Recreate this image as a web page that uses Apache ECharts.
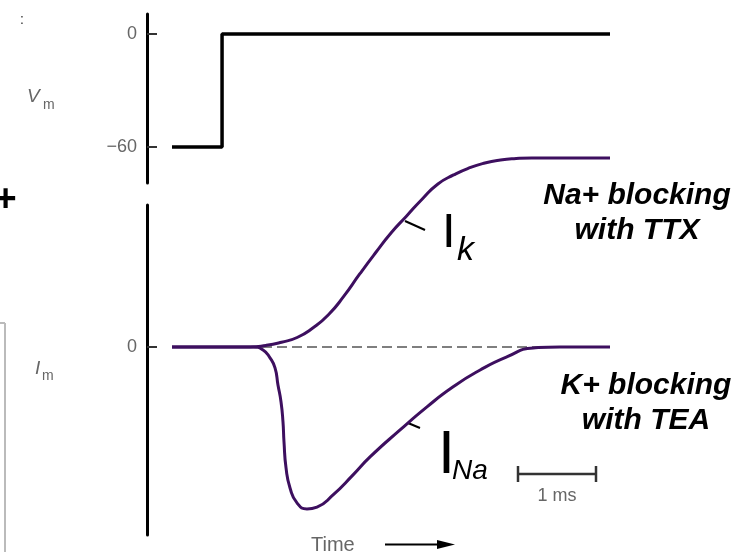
<!DOCTYPE html>
<html>
<head>
<meta charset="utf-8">
<script src="https://cdn.jsdelivr.net/npm/echarts@6/dist/echarts.min.js"></script>
<style>
  html, body { margin: 0; padding: 0; background: #fff; }
  #chartContent { width: 753px; height: 552px; }
</style>
</head>
<body>
<div id="chartContent"></div>
<script>
// time axis (ms)
var tMin = 0;
var tMax = 5.6;

// membrane voltage step (mV)
var vmTime = [0, 0.64, 0.64, 5.6];
var vmValues = [-60, -60, 0, 0];
var vmTicks = [0, -60];

// K+ current (TTX present), relative units
var ikTime = [0, 1.0, 1.2, 1.4, 1.6, 1.8, 2.0, 2.2, 2.4, 2.6, 2.8, 3.0, 3.2, 3.4, 3.6, 3.8, 4.0, 4.2, 4.4, 4.6, 5.6];
var ikValues = [0, 0, 0.008, 0.025, 0.05, 0.1, 0.17, 0.27, 0.386, 0.497, 0.603, 0.693, 0.783, 0.862, 0.91, 0.947, 0.973, 0.989, 0.997, 1.0, 1.0];

// Na+ current (TEA present), relative units
var naTime = [0, 1.036, 1.164, 1.253, 1.317, 1.355, 1.394, 1.419, 1.432, 1.458, 1.509, 1.598, 1.726, 1.854, 2.059, 2.315, 2.532, 2.916, 3.26, 3.59, 3.94, 4.28, 4.62, 4.96, 5.6];
var naValues = [0, 0, -0.016, -0.058, -0.111, -0.201, -0.291, -0.397, -0.503, -0.64, -0.746, -0.825, -0.857, -0.847, -0.783, -0.677, -0.582, -0.439, -0.317, -0.212, -0.122, -0.053, -0.005, 0, 0];
var imTicks = [0];

function pairs(xs, ys) {
	var out = [];
	for (var i = 0; i < xs.length; i++) {
		out.push([xs[i], ys[i]]);
	}
	return out;
}

var FONT = '"Liberation Sans", Arial, sans-serif';
var PURPLE = '#3d0f5f';
var GRAY = '#666';

function minusFmt(v) {
	return v < 0 ? '\u2212' + Math.abs(v) : String(v);
}

function txt(x, y, s, size, opts) {
	opts = opts || {};
	return {
		type: 'text', x: x, y: y, silent: true,
		style: {
			text: s,
			fontFamily: FONT,
			fontSize: size,
			fontWeight: opts.weight || 'normal',
			fontStyle: opts.style || 'normal',
			fill: opts.color || '#000',
			align: opts.align || 'left',
			verticalAlign: opts.valign || 'middle',
			lineHeight: opts.lineHeight
		}
	};
}

function seg(x1, y1, x2, y2, w, color) {
	return {
		type: 'line', silent: true,
		shape: { x1: x1, y1: y1, x2: x2, y2: y2 },
		style: { stroke: color || '#000', lineWidth: w }
	};
}

function yAxisFor(gridIndex, min, max, ticks) {
	return {
		type: 'value',
		gridIndex: gridIndex,
		min: min,
		max: max,
		offset: 25,
		splitLine: { show: false },
		axisLine: { show: true, onZero: false, lineStyle: { color: '#000', width: 3 } },
		axisTick: { show: true, inside: true, length: 10, customValues: ticks, lineStyle: { color: '#333', width: 2 } },
		axisLabel: { show: true, margin: 10, customValues: ticks, color: GRAY, fontFamily: FONT, fontSize: 18, formatter: minusFmt }
	};
}

var optionContent = {
	animation: false,
	backgroundColor: '#fff',
	grid: [
		{ left: 172, right: 143, top: 14, height: 169 },
		{ left: 172, right: 143, top: 205, height: 330 }
	],
	xAxis: [
		{ type: 'value', gridIndex: 0, min: tMin, max: tMax, show: false },
		{ type: 'value', gridIndex: 1, min: tMin, max: tMax, show: false }
	],
	yAxis: [
		yAxisFor(0, -79.12, 10.62, vmTicks),
		yAxisFor(1, -0.995, 0.751, imTicks)
	],
	series: [
		{
			name: 'Vm', type: 'line', xAxisIndex: 0, yAxisIndex: 0,
			data: pairs(vmTime, vmValues),
			symbol: 'none',
			lineStyle: { color: '#000', width: 3.5 }
		},
		{
			name: 'zero', type: 'line', xAxisIndex: 1, yAxisIndex: 1, z: 1,
			data: [[tMin, 0], [tMax, 0]],
			symbol: 'none',
			lineStyle: { color: '#555', width: 1.5, type: [10, 5] }
		},
		{
			name: 'Ik', type: 'line', xAxisIndex: 1, yAxisIndex: 1, z: 3,
			data: pairs(ikTime, ikValues),
			symbol: 'none', smooth: 0.55, clip: false,
			lineStyle: { color: PURPLE, width: 3 }
		},
		{
			name: 'INa', type: 'line', xAxisIndex: 1, yAxisIndex: 1, z: 3,
			data: pairs(naTime, naValues),
			symbol: 'none', smooth: 0.55, clip: false,
			lineStyle: { color: PURPLE, width: 3 }
		}
	],
	graphic: [
		// axis names
		txt(27, 97, 'V', 19, { style: 'italic', color: GRAY }),
		txt(43, 105, 'm', 14, { color: GRAY }),
		txt(35, 369, 'I', 19, { style: 'italic', color: GRAY }),
		txt(42, 376, 'm', 14, { color: GRAY }),
		// current labels and leaders
		seg(405, 221, 425, 230, 2),
		txt(442, 233, 'I', 49),
		txt(457, 251, 'k', 34, { style: 'italic' }),
		seg(408, 423, 420, 428, 2),
		txt(438, 456, 'I', 61),
		txt(452, 471, 'Na', 28, { style: 'italic' }),
		// blocker notes
		txt(637, 213, 'Na+ blocking\nwith TTX', 30, { weight: 'bold', style: 'italic', align: 'center', lineHeight: 35 }),
		txt(646, 403, 'K+ blocking\nwith TEA', 30, { weight: 'bold', style: 'italic', align: 'center', lineHeight: 35 }),
		// 1 ms scale bar
		seg(518, 474, 596, 474, 2.5, '#333'),
		seg(518, 466, 518, 482, 2.5, '#333'),
		seg(596, 466, 596, 482, 2.5, '#333'),
		txt(557, 496, '1 ms', 18, { align: 'center', color: GRAY }),
		// time arrow
		txt(311, 545, 'Time', 20, { color: GRAY }),
		seg(385, 544.5, 442, 544.5, 2),
		{ type: 'polygon', silent: true, shape: { points: [[437, 540], [455, 544.5], [437, 549]] }, style: { fill: '#000' } },
		// cropped fragments at the left edge
		txt(5.5, 201, '+', 38, { weight: 'bold', align: 'center' }),
		seg(0, 323, 5, 323, 2, '#bbb'),
		seg(5, 323, 5, 552, 2, '#bbb'),
		txt(20, 20, ':', 14, { color: '#333' })
	]
};

var myChart = echarts.init(document.getElementById('chartContent'));
myChart.setOption(optionContent);
</script>
</body>
</html>
